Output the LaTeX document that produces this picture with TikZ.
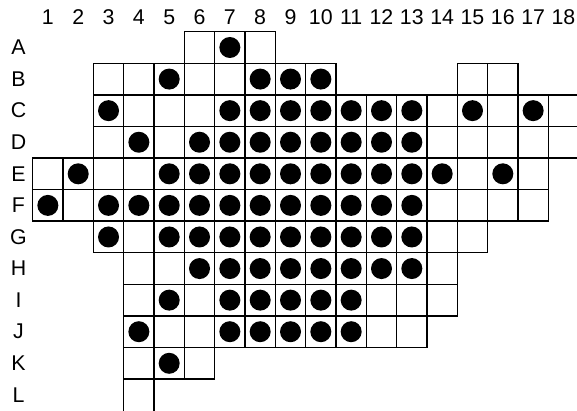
\documentclass[tikz,border=0pt]{standalone}
\usepackage{fontspec}
\setmainfont{Liberation Sans}
\tikzset{
  cell/.style={draw=black,line width=1.1pt},
  stone/.style={fill=black},
  lbl/.style={inner sep=0pt,font=\fontsize{16}{18}\selectfont}
}
\def\cw{30.33}
\def\ch{31.58}
\def\xo{32.7}
\def\yo{31.7}
\begin{document}
\begin{tikzpicture}[x=0.75pt,y=0.75pt,yscale=-1,xscale=1]
  \useasboundingbox (0,0) rectangle (577,410);
  \clip (0,0) rectangle (577,410);
  % column numbers
  \foreach \c in {1,...,18}
    \node[lbl] (col\c) at ({\xo+(\c-0.5)*\cw},17) {\c};
  % row letters
  \foreach \r/\l in {1/A,2/B,3/C,4/D,5/E,6/F,7/G,8/H,9/I,10/J,11/K,12/L}
    \node[lbl] (row\l) at (18.5,{\yo+(\r-0.5)*\ch}) {\l};
  % cells: row / first column / last column
  \foreach \r/\a/\b in {1/6/8, 2/3/10, 2/15/16, 3/3/18, 4/3/18, 5/1/17, 6/1/17,
                        7/3/15, 8/4/14, 9/4/14, 10/4/13, 11/4/6}
    \foreach \c in {\a,...,\b}
      \draw[cell] ({\xo+(\c-1)*\cw},{\yo+(\r-1)*\ch}) rectangle ({\xo+\c*\cw},{\yo+\r*\ch});
  % row L runs off the bottom edge
  \draw[cell] ({\xo+3*\cw},{\yo+11*\ch}) -- ({\xo+3*\cw},420)
              ({\xo+4*\cw},{\yo+11*\ch}) -- ({\xo+4*\cw},420);
  % stones
  \foreach \r/\cols in {1/{7}, 2/{5,8,9,10}, 3/{3,7,8,9,10,11,12,13,15,17},
                        4/{4,6,7,8,9,10,11,12,13}, 5/{2,5,6,7,8,9,10,11,12,13,14,16},
                        6/{1,3,4,5,6,7,8,9,10,11,12,13}, 7/{3,5,6,7,8,9,10,11,12,13},
                        8/{6,7,8,9,10,11,12,13}, 9/{5,7,8,9,10,11},
                        10/{4,7,8,9,10,11}, 11/{5}}
    \foreach \c in \cols
      \fill[stone] ({\xo+(\c-0.5)*\cw},{\yo+(\r-0.5)*\ch}) circle (10.5);
\end{tikzpicture}
\end{document}
